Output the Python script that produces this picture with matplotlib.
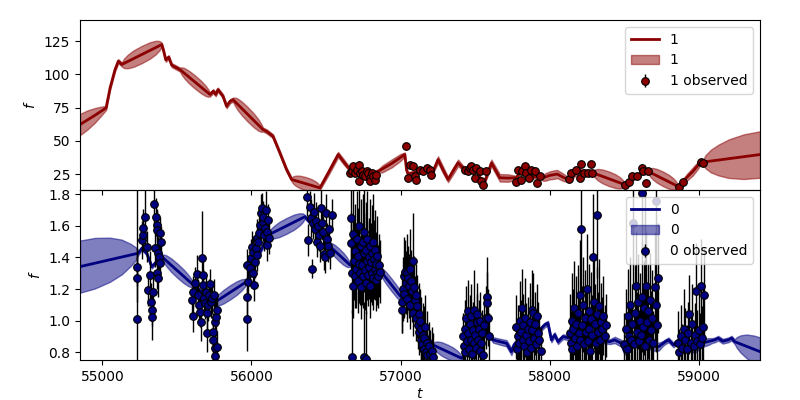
import numpy as np
import matplotlib.pyplot as plt

# ---- channel 1 (top panel): model mean ----
top_t = [54850, 54940, 55025, 55052, 55085, 55107, 55130, 55398,
         55410, 55425, 55445, 55465, 55520, 55722, 55744, 55760,
         55775, 55809, 55833, 55856, 55876, 56077, 56101, 56144,
         56190, 56235, 56269, 56459, 56520, 56581, 56620, 56660,
         56700, 56750, 56800, 56850, 56940, 57028, 57040, 57050, 57090, 57128, 57175,
         57218, 57251, 57285, 57318, 57350, 57385, 57430, 57470, 57510, 57542, 57560,
         57609, 57665, 57720, 57776, 57799, 57830, 57866, 57910, 57955, 58000, 58050,
         58100, 58134, 58170, 58201, 58250, 58290, 58502, 58531,
         58581, 58636, 58660, 58859, 58893, 58960, 59016, 59027,
         59410]
top_mean = [62.3, 68.5, 74.8, 90, 103.7, 110, 107.5, 122.5,
            118, 111, 113, 107, 103.7, 84.9, 87.4, 85,
            88.6, 83.6, 76, 79.8, 81, 58.5, 57.2, 53.5,
            41, 28.4, 20.9, 14.6, 27, 39.7, 34, 28.4,
            26, 24, 25, 27.1, 33, 39.7, 28, 25, 26, 28.4, 28,
            27.2, 35.9, 28, 20.9, 27, 33.4, 28.4, 28.5, 28, 19.6, 18,
            33.4, 22.2, 22, 22.2, 25.9, 27, 23.4, 23, 22.2, 24, 25,
            22, 20.9, 25, 27.2, 27, 25.9, 17.1, 19.5,
            23.4, 27.2, 27, 15.8, 19.6, 27, 34.6, 34,
            39.7]

# ---- channel 1: band half-width ----
top_band_t = [54850, 54900, 54950, 54990, 55025,
              55130, 55146, 55170, 55210, 55264, 55318, 55358, 55382, 55398,
              55520, 55532, 55550, 55581, 55621, 55661, 55692, 55710, 55722,
              55876, 55888, 55906, 55936, 55976, 56016, 56046, 56065, 56077,
              56269, 56280, 56298, 56326, 56364, 56402, 56430, 56448, 56459,
              56520, 56581, 56620, 56660,
              56850, 56880, 56940, 57000, 57028,
              57218, 57251, 57285, 57318, 57350, 57385, 57430,
              57575, 57609, 57665, 57720, 57776,
              57937, 57970, 58030, 58090, 58129,
              58290, 58303, 58322, 58354, 58396, 58438, 58470, 58489, 58502,
              58660, 58672, 58690, 58720, 58760, 58800, 58829, 58847, 58859,
              58893, 58925, 58960, 58995, 59016,
              59027, 59045, 59080, 59130, 59200, 59300, 59410]
top_band_w = [8, 7.2, 5.5, 3.5, 1.5,
              1.5, 3.6, 5.1, 6.2, 6.5, 6.2, 5.1, 3.6, 1.5,
              1.5, 2.8, 3.9, 4.75, 5, 4.75, 3.9, 2.8, 1.5,
              1.5, 3, 4.3, 5.2, 5.5, 5.2, 4.3, 3, 1.5,
              1.5, 2.8, 3.9, 4.75, 5, 4.75, 3.9, 2.8, 1.5,
              2, 2, 2, 1.5,
              1.5, 2.6, 3, 2.6, 1.5,
              1.5, 2.5, 2.5, 2, 2.5, 2.5, 1.5,
              1.5, 2.5, 2.8, 2.8, 1.5,
              1.5, 2.8, 3.2, 2.8, 1.5,
              1.5, 3, 4.3, 5.2, 5.5, 5.2, 4.3, 3, 1.5,
              1.5, 3, 4.3, 5.2, 5.5, 5.2, 4.3, 3, 1.5,
              1.5, 2.6, 3, 2.6, 1.5,
              1.5, 5, 8.5, 11.5, 14.5, 16.8, 17.5]

# ---- channel 1 observations ----
top_obs_t = [56661, 56675, 56684, 56695, 56707, 56718, 56718, 56727, 56738, 56748,
             56761, 56772, 56783, 56794, 56794, 56805, 56815, 56827, 56838,
             57035, 57051, 57062, 57084, 57095, 57106, 57129, 57151, 57174, 57196, 57207,
             57430, 57452, 57464, 57474, 57486, 57497, 57508, 57531, 57542, 57553, 57575,
             57776, 57788, 57804, 57817, 57832, 57844, 57861, 57877, 57899, 57915, 57937,
             58129, 58145, 58174, 58201, 58212, 58227, 58256, 58274, 58285,
             58502, 58531, 58553, 58584, 58618, 58625, 58643, 58659,
             58865, 58892, 59016, 59027]
top_obs_f = [25.9, 27.1, 30.9, 25.9, 28.4, 32.2, 19.6, 25.9, 27.1, 24.6,
             23.4, 27.1, 25.9, 22.2, 19.6, 25.9, 23.4, 20.9, 24.6,
             46.5, 22.2, 32.2, 30.9, 23.4, 20.9, 28.4, 27.2, 29.7, 28.4, 24.6,
             28.4, 27.2, 29.7, 31, 28.4, 22.2, 29.7, 27.2, 19.6, 16.5, 27.2,
             18.9, 28.4, 20.9, 27.2, 31, 25.9, 22.2, 28.4, 27.2, 18.4, 23.9,
             21.4, 25.9, 28.4, 22.2, 32.9, 25.9, 25.9, 32.9, 25.9,
             16.9, 18.9, 23.4, 23.4, 29.7, 27.2, 18.4, 27.2,
             15.3, 18.9, 34.2, 33.4]
top_obs_err = [2.5, 2, 2, 1.5, 2, 2.5, 2, 1.5, 2, 1.5,
               2, 2, 1.5, 2, 2, 1.5, 2, 2, 1.5,
               2, 1.5, 2, 1.5, 1.5, 1.5, 1.5, 1.5, 1.5, 1.5, 1.5,
               1.5, 1.5, 1.5, 1.5, 1.5, 1.5, 1.5, 1.5, 2, 2, 1.5,
               1.5, 1.5, 1.5, 1.5, 1.5, 1.5, 1.5, 1.5, 1.5, 1.5, 1.5,
               1.5, 1.5, 1.5, 1.5, 1.5, 1.5, 1.5, 1.5, 1.5,
               1.5, 1.5, 1.5, 1.5, 3, 2, 2.5, 1.5,
               1.5, 1.5, 2.5, 1.5]

# ---- channel 0 (bottom panel): model mean ----
bot_t = [54850, 55241, 55264, 55297, 55331, 55398, 55610, 55680, 55744, 55967,
         56040, 56112, 56358, 56440, 56516, 56660, 56760, 56851, 57028, 57120,
         57218, 57409, 57480, 57553, 57588, 57620, 57665, 57710, 57743, 57760,
         57790, 57830, 57899, 57933, 57966, 57988, 58011, 58033, 58055, 58089,
         58130, 58179, 58240, 58313, 58402, 58436, 58480, 58502, 58560, 58610,
         58663, 58700, 58730, 58775, 58797, 58830, 58853, 58880, 58918, 58970,
         59017, 59060, 59106, 59130, 59160, 59196, 59220, 59240, 59410]
bot_mean = [1.342, 1.427, 1.458, 1.427, 1.342, 1.405, 1.226, 1.17, 1.11, 1.247,
            1.40, 1.542, 1.658, 1.57, 1.479, 1.353, 1.34, 1.332, 1.12, 0.98,
            0.846, 0.762, 0.85, 0.952, 0.92, 0.878, 0.867, 0.857, 0.804, 0.846,
            0.878, 0.87, 0.899, 0.941, 0.973, 0.984, 0.878, 0.911, 0.867, 0.899,
            0.89, 0.899, 0.878, 0.878, 0.867, 0.878, 0.857, 0.804, 0.878, 0.86,
            0.846, 0.84, 0.835, 0.867, 0.878, 0.846, 0.867, 0.835, 0.825, 0.815,
            0.857, 0.867, 0.878, 0.889, 0.87, 0.878, 0.889, 0.867, 0.804]

# ---- channel 0: band half-width ----
bot_band_t = [54850, 54950, 55050, 55130, 55190, 55225, 55241,
              55398, 55411, 55430, 55462, 55504, 55546, 55578, 55597, 55610,
              55744, 55757, 55777, 55811, 55856, 55901, 55935, 55955, 55967,
              56112, 56127, 56149, 56186, 56235, 56284, 56321, 56343, 56358,
              56516, 56525, 56538, 56559, 56588, 56617, 56638, 56651, 56660,
              56851, 56862, 56878, 56904, 56940, 56975, 57001, 57017, 57028,
              57218, 57229, 57247, 57275, 57314, 57352, 57380, 57398, 57409,
              57553, 57710, 57743, 57780, 58402, 58436, 58480, 58502, 58560,
              58640, 58663, 58700, 58730, 58760,
              58950, 58975, 59017, 59060, 59090,
              59240, 59255, 59280, 59320, 59370, 59410]
bot_band_w = [0.165, 0.16, 0.14, 0.11, 0.07, 0.04, 0.012,
              0.012, 0.025, 0.035, 0.043, 0.045, 0.043, 0.035, 0.025, 0.012,
              0.012, 0.025, 0.035, 0.043, 0.045, 0.043, 0.035, 0.025, 0.012,
              0.012, 0.028, 0.039, 0.048, 0.05, 0.048, 0.039, 0.028, 0.012,
              0.012, 0.022, 0.031, 0.038, 0.04, 0.038, 0.031, 0.022, 0.012,
              0.012, 0.022, 0.031, 0.038, 0.04, 0.038, 0.031, 0.022, 0.012,
              0.012, 0.025, 0.035, 0.043, 0.045, 0.043, 0.035, 0.025, 0.012,
              0.015, 0.02, 0.022, 0.015, 0.015, 0.02, 0.022, 0.02, 0.015,
              0.015, 0.025, 0.03, 0.025, 0.015,
              0.015, 0.022, 0.025, 0.022, 0.015,
              0.015, 0.035, 0.055, 0.075, 0.087, 0.09]

# ---- channel 0 observations ----
bot_obs_t = [55235, 55235, 55235, 55264, 55271, 55275, 55286, 55297, 55308, 55320, 55324,
             55331, 55331, 55338, 55346, 55353, 55360, 55364, 55369, 55375, 55382, 55387,
             55364, 55375, 55387, 55391,
             55599, 55606, 55610, 55621, 55632, 55643, 55650, 55655, 55659, 55666, 55673,
             55677, 55681, 55688, 55695, 55699, 55704, 55710, 55717, 55722, 55726, 55733,
             55740, 55744, 55748, 55755, 55755, 55755, 55762, 55766, 55771,
             55967, 55967, 55967, 55978, 55990, 55994, 56001, 56008, 56012, 56016, 56023,
             56030, 56034, 56039, 56045, 56052, 56057, 56061, 56068, 56075, 56079, 56083,
             56090, 56097, 56101, 56106, 56112, 56119,
             56375, 56380, 56390, 56400, 56405, 56410, 56418, 56425, 56432, 56438, 56445,
             56452, 56458, 56465, 56470, 56478, 56485, 56490, 56498, 56505, 56512, 56520,
             56525, 56540,
             56665, 56670, 56672, 56676, 56678, 56683, 56688, 56692, 56697, 56702, 56707,
             56712, 56716, 56720, 56724, 56728, 56732, 56737, 56741, 56745, 56749, 56752,
             56753, 56757, 56761, 56765, 56768, 56769, 56773, 56777, 56781, 56785, 56789,
             56793, 56797, 56801, 56805, 56809, 56813, 56817, 56821, 56825, 56829, 56833,
             56837, 56841, 56845, 56850, 56855, 56860,
             57006, 57010, 57015, 57020, 57025, 57030, 57035, 57040, 57045, 57050, 57055,
             57060, 57065, 57070, 57075, 57080, 57085, 57090, 57095, 57100, 57105, 57110,
             57115, 57120, 57125, 57130, 57135, 57140, 57145, 57150, 57155, 57160, 57165,
             57170, 57175, 57180, 57190, 57200, 57210, 57220,
             57420, 57425, 57430, 57435, 57440, 57445, 57450, 57455, 57460, 57465, 57470,
             57475, 57480, 57485, 57490, 57495, 57500, 57505, 57510, 57515, 57520, 57525,
             57530, 57535, 57540, 57545, 57550, 57560, 57570, 57576, 57580, 57585, 57590,
             57776, 57782, 57788, 57795, 57800, 57806, 57812, 57818, 57824, 57830, 57836,
             57842, 57848, 57854, 57860, 57866, 57872, 57878, 57884, 57890, 57896, 57902,
             57908, 57914, 57920, 57930, 57940,
             58135, 58140, 58146, 58152, 58158, 58164, 58170, 58176, 58182, 58188, 58194,
             58200, 58206, 58212, 58218, 58224, 58230, 58236, 58242, 58248, 58254, 58260,
             58266, 58272, 58278, 58284, 58290, 58296, 58302, 58308, 58315, 58320, 58326,
             58332, 58338, 58344, 58350, 58360, 58370, 58380,
             58500, 58510, 58520, 58525, 58532, 58538, 58545, 58552, 58558, 58565, 58572,
             58580, 58586, 58592, 58598, 58604, 58610, 58616, 58621, 58626, 58632, 58638,
             58641, 58648, 58654, 58660, 58666, 58672, 58680, 58688, 58695, 58703, 58710,
             58714, 58720, 58725,
             58860, 58870, 58880, 58890, 58900, 58910, 58920, 58930, 58937, 58945, 58955,
             58965, 58975, 58982, 58990, 59000, 59010, 59016, 59022, 59027, 59033]
bot_obs_f = [1.342, 1.268, 1.009, 1.511, 1.542, 1.589, 1.654, 1.469, 1.194, 1.289, 1.121,
             1.068, 1.026, 1.184, 1.739, 1.458, 1.659, 1.606, 1.574, 1.427, 1.405, 1.363,
             1.30, 1.268, 1.553, 1.50,
             1.131, 1.184, 1.03, 1.237, 1.294, 1.163, 1.10, 1.057, 0.994, 1.395, 1.289,
             1.226, 1.142, 1.11, 1.184, 1.047, 0.92, 1.10, 1.163, 1.23, 1.12, 1.142,
             0.878, 0.93, 1.163, 0.994, 0.825, 0.775, 1.026, 0.835, 1.068,
             1.353, 1.152, 1.009, 1.247, 1.332, 1.395, 1.469, 1.437, 1.30, 1.226, 1.373,
             1.458, 1.522, 1.416, 1.50, 1.553, 1.606, 1.68, 1.711, 1.627, 1.659, 1.542,
             1.585, 1.70, 1.479, 1.563, 1.637, 1.522,
             1.78, 1.51, 1.72, 1.65, 1.33, 1.62, 1.69, 1.58, 1.63, 1.50, 1.60,
             1.54, 1.47, 1.71, 1.62, 1.56, 1.42, 1.40, 1.68, 1.52, 1.47, 1.58,
             1.43, 1.67,
             1.65, 1.49, 1.30, 0.77, 1.22, 1.55, 1.38, 1.28, 1.44, 1.33, 1.52,
             1.25, 1.41, 1.36, 1.60, 1.30, 1.47, 1.21, 1.35, 1.50, 1.28, 0.77,
             1.43, 1.56, 1.32, 1.24, 0.76, 1.45, 1.38, 1.52, 1.29, 1.40, 1.34,
             1.47, 1.22, 1.37, 1.43, 1.30, 1.50, 1.27, 1.39, 1.33, 1.45, 1.26,
             1.36, 1.30, 1.41, 1.28, 1.35, 1.31,
             1.12, 1.07, 1.20, 1.28, 1.17, 1.31, 1.24, 1.30, 1.14, 1.27, 1.22,
             1.33, 1.10, 1.25, 1.19, 1.38, 1.05, 1.21, 1.13, 1.16, 1.02, 1.09,
             0.97, 1.04, 0.93, 1.00, 0.88, 0.95, 0.85, 0.91, 0.82, 0.89, 0.96,
             0.80, 0.86, 0.78, 0.84, 0.79, 0.81, 0.77,
             0.90, 0.84, 0.95, 0.80, 1.02, 0.87, 1.06, 0.92, 0.82, 0.98, 0.88,
             1.03, 0.79, 0.94, 0.86, 1.07, 0.91, 0.83, 0.99, 1.04, 0.88, 0.95,
             0.81, 1.00, 0.86, 0.92, 0.78, 0.97, 1.02, 1.15, 1.11, 1.02, 0.90,
             0.96, 0.82, 0.90, 0.86, 1.00, 0.93, 1.08, 0.88, 0.97, 0.84, 1.02,
             0.91, 0.80, 0.95, 0.87, 0.99, 0.83, 0.94, 1.07, 1.05, 0.89, 0.98,
             0.85, 1.03, 0.92, 0.88, 0.81,
             0.92, 0.86, 1.00, 0.82, 0.95, 1.08, 0.89, 0.98, 0.84, 1.05, 0.92,
             1.16, 0.88, 1.58, 0.97, 1.10, 0.85, 1.02, 0.93, 1.20, 0.87, 1.06,
             0.95, 0.81, 1.01, 0.91, 1.40, 1.12, 0.98, 0.86, 1.67, 1.04, 0.93,
             1.09, 0.88, 0.99, 0.95, 1.03, 0.90, 0.97,
             0.85, 0.95, 0.82, 1.03, 0.90, 1.10, 0.88, 0.98, 1.62, 0.85, 1.05,
             1.22, 0.93, 1.12, 0.87, 1.00, 0.91, 1.15, 1.81, 0.96, 1.08, 0.84,
             1.44, 1.22, 0.99, 1.06, 0.88, 1.13, 0.94, 1.02, 0.86, 1.21, 1.10,
             1.76, 0.97, 1.27,
             0.86, 0.80, 0.90, 0.83, 0.95, 0.88, 0.82, 0.92, 1.04, 0.86, 0.98,
             0.84, 0.91, 1.19, 0.87, 0.94, 0.85, 1.22, 0.89, 0.96, 1.16]
bot_obs_err = [0.12, 0.15, 0.85, 0.12, 0.1, 0.12, 0.2, 0.1, 0.1, 0.15, 0.12,
               0.1, 0.15, 0.1, 0.15, 0.12, 0.12, 0.1, 0.12, 0.1, 0.12, 0.1,
               0.1, 0.12, 0.1, 0.1,
               0.08, 0.1, 0.1, 0.1, 0.12, 0.1, 0.1, 0.1, 0.12, 0.3, 0.1,
               0.1, 0.1, 0.1, 0.1, 0.12, 0.12, 0.1, 0.1, 0.1, 0.1, 0.1,
               0.15, 0.12, 0.1, 0.15, 0.1, 0.1, 0.12, 0.1, 0.1,
               0.1, 0.12, 0.2, 0.1, 0.1, 0.12, 0.1, 0.1, 0.1, 0.1, 0.1,
               0.1, 0.12, 0.1, 0.12, 0.1, 0.1, 0.12, 0.1, 0.12, 0.1, 0.1,
               0.1, 0.12, 0.1, 0.1, 0.1, 0.1,
               0.12, 0.1, 0.1, 0.12, 0.06, 0.1, 0.12, 0.1, 0.12, 0.1, 0.1,
               0.1, 0.1, 0.12, 0.1, 0.1, 0.1, 0.1, 0.12, 0.1, 0.1, 0.1,
               0.1, 0.1,
               0.3, 0.2, 0.25, 0.3, 0.2, 0.35, 0.25, 0.2, 0.3, 0.25, 0.3,
               0.2, 0.3, 0.25, 0.35, 0.2, 0.3, 0.2, 0.25, 0.3, 0.2, 0.35,
               0.25, 0.3, 0.25, 0.2, 0.3, 0.3, 0.25, 0.3, 0.2, 0.25, 0.2,
               0.3, 0.2, 0.25, 0.3, 0.2, 0.3, 0.2, 0.25, 0.2, 0.25, 0.2,
               0.2, 0.2, 0.25, 0.2, 0.2, 0.2,
               0.2, 0.15, 0.2, 0.25, 0.15, 0.2, 0.2, 0.25, 0.15, 0.2, 0.2,
               0.25, 0.15, 0.2, 0.2, 0.3, 0.15, 0.2, 0.15, 0.2, 0.15, 0.2,
               0.15, 0.2, 0.15, 0.2, 0.15, 0.2, 0.15, 0.2, 0.15, 0.2, 0.2,
               0.15, 0.2, 0.15, 0.15, 0.15, 0.15, 0.15,
               0.15, 0.12, 0.18, 0.12, 0.2, 0.15, 0.2, 0.15, 0.12, 0.18, 0.15,
               0.2, 0.12, 0.18, 0.15, 0.25, 0.15, 0.12, 0.18, 0.2, 0.15, 0.18,
               0.12, 0.18, 0.15, 0.15, 0.12, 0.2, 0.2, 0.25, 0.2, 0.18, 0.15,
               0.2, 0.15, 0.2, 0.15, 0.25, 0.2, 0.25, 0.15, 0.2, 0.15, 0.25,
               0.2, 0.15, 0.2, 0.15, 0.25, 0.15, 0.2, 0.25, 0.25, 0.15, 0.2,
               0.15, 0.2, 0.2, 0.15, 0.15,
               0.25, 0.2, 0.3, 0.2, 0.25, 0.3, 0.2, 0.3, 0.2, 0.3, 0.25,
               0.35, 0.2, 0.4, 0.25, 0.3, 0.2, 0.3, 0.25, 0.35, 0.2, 0.3,
               0.25, 0.2, 0.3, 0.25, 0.4, 0.3, 0.25, 0.2, 0.4, 0.3, 0.25,
               0.3, 0.2, 0.25, 0.2, 0.25, 0.2, 0.2,
               0.2, 0.25, 0.2, 0.3, 0.2, 0.3, 0.2, 0.25, 0.4, 0.2, 0.3,
               0.35, 0.25, 0.3, 0.2, 0.3, 0.2, 0.35, 0.4, 0.25, 0.3, 0.2,
               0.4, 0.35, 0.25, 0.3, 0.2, 0.3, 0.25, 0.3, 0.2, 0.35, 0.3,
               0.4, 0.25, 0.35,
               0.2, 0.15, 0.2, 0.15, 0.25, 0.2, 0.15, 0.2, 0.25, 0.2, 0.25,
               0.15, 0.2, 0.3, 0.2, 0.25, 0.2, 0.3, 0.2, 0.25, 0.3]

channels = [
    dict(name='1', t=top_t, mean=top_mean, bt=top_band_t, bw=top_band_w,
         ot=top_obs_t, of=top_obs_f, oe=top_obs_err, color='darkred', ylim=(13, 141)),
    dict(name='0', t=bot_t, mean=bot_mean, bt=bot_band_t, bw=bot_band_w,
         ot=bot_obs_t, of=bot_obs_f, oe=bot_obs_err, color='navy', ylim=(0.751, 1.827)),
]

fig, axes = plt.subplots(2, 1, sharex=True, figsize=(8, 4), dpi=100)
fig.subplots_adjust(left=0.1, right=0.95, top=0.95, bottom=0.1, hspace=0)

for ax, ch in zip(axes, channels):
    # common x for line and band: union of both sets of read knots
    grid = np.union1d(ch['t'], ch['bt'])
    m = np.interp(grid, ch['t'], ch['mean'])
    w = np.interp(grid, ch['bt'], ch['bw'])
    ax.plot(grid, m, color=ch['color'], lw=2, label=ch['name'])
    ax.fill_between(grid, m - w, m + w, color=ch['color'], alpha=0.5, label=ch['name'])
    ax.errorbar(ch['ot'], ch['of'], yerr=ch['oe'], fmt='o', color=ch['color'],
                ecolor='k', elinewidth=1, mec='k', mew=0.8, ms=5.5,
                label=ch['name'] + ' observed')
    ax.set_ylim(*ch['ylim'])
    ax.set_ylabel('$f$')
    ax.legend(loc='upper right')

axes[1].patch.set_visible(False)
axes[1].set_xlim(54850, 59410)
axes[1].set_xlabel('$t$', labelpad=2)

fig.savefig('out.png')
